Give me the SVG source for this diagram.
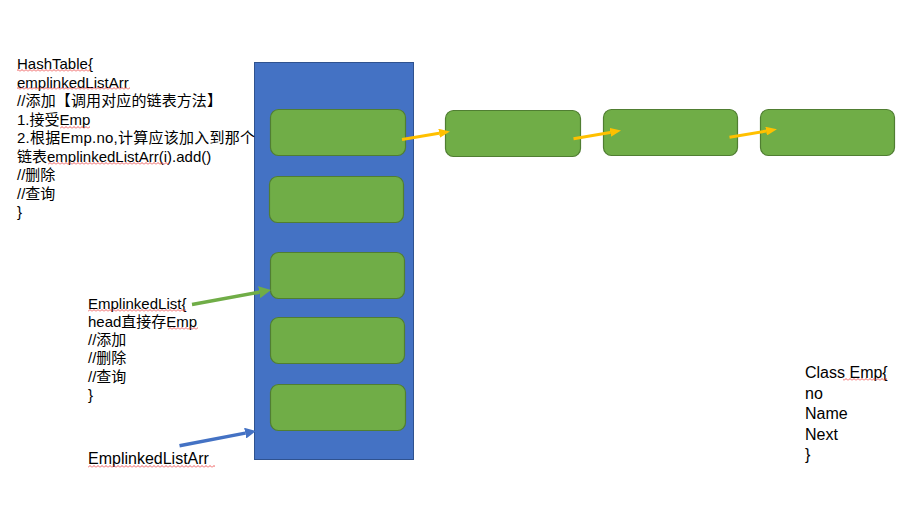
<svg xmlns="http://www.w3.org/2000/svg" width="917" height="516" viewBox="0 0 917 516">
<style>
.bg{fill:#ffffff}
.arr{fill:#4472C4;stroke:#2F528F;stroke-width:1}
.node{fill:#70AD47;stroke:#507E32;stroke-width:1.2}
.t{font-family:"Liberation Sans","Noto Sans CJK SC",sans-serif;font-size:15px;fill:#000}
.t16{font-family:"Liberation Sans","Noto Sans CJK SC",sans-serif;font-size:16px;fill:#000}
.y{stroke:#FFC000;stroke-width:3;fill:none}
.g{stroke:#70AD47;stroke-width:3.5;fill:none}
.b{stroke:#4472C4;stroke-width:3.5;fill:none}
.wv{fill:url(#wavy)}
</style>
<defs>
<pattern id="wavy" x="0" y="0" width="4" height="3" patternUnits="userSpaceOnUse">
<path d="M0,2.5 L2,0.5 L4,2.5" stroke="#E83030" stroke-width="0.8" fill="none"/>
</pattern>
<marker id="my" markerUnits="userSpaceOnUse" markerWidth="11" markerHeight="9" refX="0" refY="4.5" orient="auto">
<path d="M0,0 L11,4.5 L0,9 z" fill="#FFC000"/>
</marker>
<marker id="mg" markerUnits="userSpaceOnUse" markerWidth="12" markerHeight="12" refX="0" refY="6" orient="auto">
<path d="M0,0 L12,6 L0,12 z" fill="#70AD47"/>
</marker>
<marker id="mb" markerUnits="userSpaceOnUse" markerWidth="11" markerHeight="11" refX="0" refY="5.5" orient="auto">
<path d="M0,0 L11,5.5 L0,11 z" fill="#4472C4"/>
</marker>
</defs>
<rect class="bg" x="0" y="0" width="917" height="516"/>

<g id="array">
<rect class="arr" x="254.5" y="62.5" width="159" height="397"/>
</g>
<g id="slot0"><rect class="node" x="270.5" y="109.5" width="135" height="46" rx="8"/></g>
<g id="slot1"><rect class="node" x="269.5" y="176.5" width="134" height="46" rx="8"/></g>
<g id="slot2"><rect class="node" x="270.5" y="252.5" width="134" height="46" rx="8"/></g>
<g id="slot3"><rect class="node" x="270.5" y="317.5" width="134" height="46" rx="8"/></g>
<g id="slot4"><rect class="node" x="270.5" y="384.5" width="135" height="46" rx="8"/></g>
<g id="emp1"><rect class="node" x="445.5" y="110.5" width="135" height="46" rx="8"/></g>
<g id="emp2"><rect class="node" x="603.5" y="109.5" width="134" height="46" rx="8"/></g>
<g id="emp3"><rect class="node" x="760.5" y="109.5" width="134" height="46" rx="8"/></g>

<g id="connectors">
<line class="y" x1="402" y1="139.5" x2="439.1" y2="133.3" marker-end="url(#my)"/>
<line class="y" x1="573.5" y1="138.7" x2="610.2" y2="132.4" marker-end="url(#my)"/>
<line class="y" x1="729.5" y1="137.3" x2="766.1" y2="131.1" marker-end="url(#my)"/>
<line class="g" x1="192" y1="304.5" x2="259.2" y2="292.2" marker-end="url(#mg)"/>
<line class="b" x1="179.5" y1="445.7" x2="245.2" y2="433.1" marker-end="url(#mb)"/>
</g>

<g id="hashtable-text">
<text class="t" x="17" y="69">HashTable{</text>
<text class="t" x="17" y="87.5">emplinkedListArr</text>
<text class="t" x="17" y="106" textLength="205" lengthAdjust="spacing">//添加【调用对应的链表方法】</text>
<text class="t" x="17" y="124.5">1.接受Emp</text>
<text class="t" x="17" y="143" textLength="238" lengthAdjust="spacing">2.根据Emp.no,计算应该加入到那个</text>
<text class="t" x="17" y="161.5">链表emplinkedListArr(i).add()</text>
<text class="t" x="17" y="180">//删除</text>
<text class="t" x="17" y="198.5">//查询</text>
<text class="t" x="17" y="217">}</text>
<rect class="wv" x="17" y="69" width="74" height="3"/>
<rect class="wv" x="17" y="87" width="113" height="3"/>
<rect class="wv" x="60" y="126" width="30" height="3"/>
<rect class="wv" x="48" y="162" width="121" height="3"/>
</g>

<g id="emplinkedlist-text">
<text class="t" x="88" y="308.5">EmplinkedList{</text>
<text class="t" x="88" y="326.7">head直接存Emp</text>
<text class="t" x="88" y="345">//添加</text>
<text class="t" x="88" y="363.2">//删除</text>
<text class="t" x="88" y="381.5">//查询</text>
<text class="t" x="88" y="399.7">}</text>
<rect class="wv" x="88" y="309" width="98" height="3"/>
<rect class="wv" x="168" y="327" width="30" height="3"/>
</g>

<g id="arr-label">
<text class="t16" x="88" y="464">EmplinkedListArr</text>
<rect class="wv" x="88" y="465" width="127" height="3"/>
</g>

<g id="emp-class-text">
<text class="t16" x="805" y="378">Class Emp{</text>
<text class="t16" x="805" y="398.5">no</text>
<text class="t16" x="805" y="419">Name</text>
<text class="t16" x="805" y="439.5">Next</text>
<text class="t16" x="805" y="460">}</text>
<rect class="wv" x="843" y="378" width="44" height="3"/>
</g>
</svg>
